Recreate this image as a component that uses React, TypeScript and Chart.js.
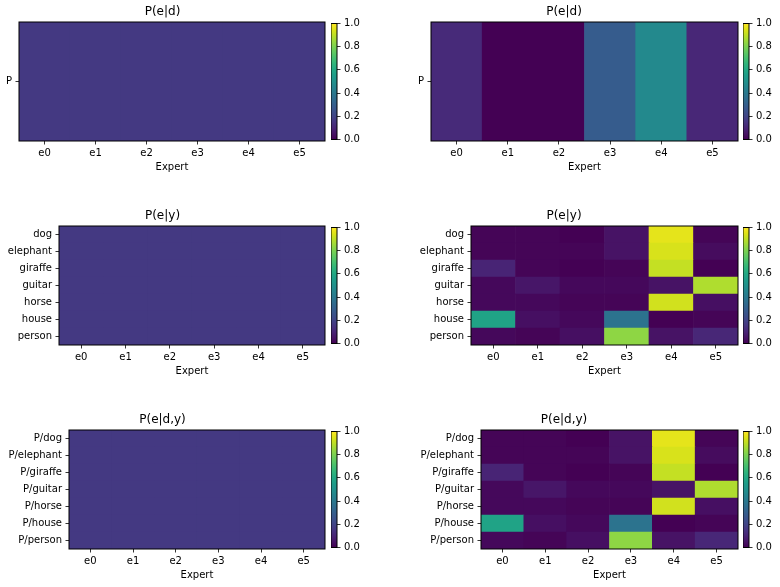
import React, { useEffect, useRef } from 'react';
import { Chart, registerables } from 'chart.js';

Chart.register(...registerables);

// ---------- data ----------
const experts = ['e0', 'e1', 'e2', 'e3', 'e4', 'e5'];
const domainRows = ['P'];
const labelRows = ['dog', 'elephant', 'giraffe', 'guitar', 'horse', 'house', 'person'];
const domainLabelRows = ['P/dog', 'P/elephant', 'P/giraffe', 'P/guitar', 'P/horse', 'P/house', 'P/person'];
const colorbarTicks = [0.0, 0.2, 0.4, 0.6, 0.8, 1.0];
const colorbarRange = [0, 1];

const pedUniform = [[0.167, 0.167, 0.167, 0.167, 0.167, 0.167]];
const peyUniform = [
  [0.167, 0.167, 0.167, 0.167, 0.167, 0.167],
  [0.167, 0.167, 0.167, 0.167, 0.167, 0.167],
  [0.167, 0.167, 0.167, 0.167, 0.167, 0.167],
  [0.167, 0.167, 0.167, 0.167, 0.167, 0.167],
  [0.167, 0.167, 0.167, 0.167, 0.167, 0.167],
  [0.167, 0.167, 0.167, 0.167, 0.167, 0.167],
  [0.167, 0.167, 0.167, 0.167, 0.167, 0.167],
];
const pedyUniform = [
  [0.167, 0.167, 0.167, 0.167, 0.167, 0.167],
  [0.167, 0.167, 0.167, 0.167, 0.167, 0.167],
  [0.167, 0.167, 0.167, 0.167, 0.167, 0.167],
  [0.167, 0.167, 0.167, 0.167, 0.167, 0.167],
  [0.167, 0.167, 0.167, 0.167, 0.167, 0.167],
  [0.167, 0.167, 0.167, 0.167, 0.167, 0.167],
  [0.167, 0.167, 0.167, 0.167, 0.167, 0.167],
];

const pedLearned = [[0.12, 0.0, 0.0, 0.29, 0.47, 0.11]];
const peyLearned = [
  [0.01, 0.01, 0.00, 0.05, 0.96, 0.01],
  [0.01, 0.01, 0.01, 0.05, 0.94, 0.03],
  [0.10, 0.01, 0.00, 0.01, 0.91, 0.00],
  [0.02, 0.06, 0.02, 0.02, 0.05, 0.88],
  [0.02, 0.02, 0.01, 0.01, 0.93, 0.04],
  [0.58, 0.04, 0.02, 0.38, 0.00, 0.01],
  [0.02, 0.01, 0.04, 0.83, 0.05, 0.11],
];
const pedyLearned = [
  [0.01, 0.01, 0.00, 0.05, 0.96, 0.01],
  [0.01, 0.01, 0.01, 0.05, 0.94, 0.03],
  [0.10, 0.01, 0.00, 0.01, 0.91, 0.00],
  [0.02, 0.06, 0.02, 0.02, 0.05, 0.88],
  [0.02, 0.02, 0.01, 0.01, 0.93, 0.04],
  [0.58, 0.04, 0.02, 0.38, 0.00, 0.01],
  [0.02, 0.01, 0.04, 0.83, 0.05, 0.11],
];

// ---------- style ----------
const FONT = "'DejaVu Sans', 'Liberation Sans', sans-serif";
const VIRIDIS = [
  '#440154', '#471365', '#482475', '#463480', '#414487', '#3b528b', '#355f8d',
  '#2f6c8e', '#2a788e', '#25848e', '#21918c', '#1e9c89', '#22a884', '#2fb47c',
  '#44bf70', '#5ec962', '#7ad151', '#9bd93c', '#bddf26', '#dfe318', '#fde725',
];
function hexToRgb(h: string) {
  return [parseInt(h.slice(1, 3), 16), parseInt(h.slice(3, 5), 16), parseInt(h.slice(5, 7), 16)];
}
function viridis(v: number) {
  const t = Math.max(0, Math.min(1, v)) * (VIRIDIS.length - 1);
  const i = Math.min(VIRIDIS.length - 2, Math.floor(t));
  const f = t - i;
  const a = hexToRgb(VIRIDIS[i]);
  const b = hexToRgb(VIRIDIS[i + 1]);
  const c = a.map((x, k) => Math.round(x + (b[k] - x) * f));
  return `rgb(${c[0]},${c[1]},${c[2]})`;
}

const TITLE_H = 20;
const XAXIS_H = 32;
const PAD_R = 3;
const TICK_LEN = 3.5;

const framePlugin = {
  id: 'frame',
  afterDraw(chart: any) {
    const { ctx, chartArea: a } = chart;
    ctx.save();
    ctx.strokeStyle = '#000';
    ctx.lineWidth = 1;
    ctx.strokeRect(a.left, a.top, a.right - a.left, a.bottom - a.top);
    ctx.restore();
  },
};

type Spec = {
  title: string;
  rows: string[];
  values: number[][];
  colLeft: number;
  l: number;
  r: number;
  t: number;
  b: number;
  cbL: number;
  cbR: number;
};

function Heatmap({ spec }: { spec: Spec }) {
  const ref = useRef<HTMLCanvasElement>(null);
  const W = spec.r - spec.colLeft + PAD_R;
  const H = spec.b - spec.t + TITLE_H + XAXIS_H;
  useEffect(() => {
    const n = spec.rows.length;
    const datasets = spec.values
      .map((row, i) => ({
        label: spec.rows[i],
        data: row.map(() => 1),
        backgroundColor: row.map(viridis),
        borderColor: row.map(viridis),
        borderWidth: 0,
        barPercentage: 1,
        categoryPercentage: 1,
      }))
      .reverse();
    const chart = new Chart(ref.current as HTMLCanvasElement, {
      type: 'bar',
      data: { labels: experts, datasets },
      options: {
        animation: false,
        responsive: false,
        maintainAspectRatio: false,
        layout: { padding: { top: 0, right: PAD_R, bottom: 0, left: 0 } },
        plugins: {
          legend: { display: false },
          tooltip: { enabled: false },
          title: {
            display: true,
            text: spec.title,
            color: '#000',
            font: { family: FONT, size: 12, weight: 'normal' },
            padding: { top: TITLE_H - 14.4 - 2.8, bottom: 2.8 },
          },
        },
        scales: {
          x: {
            type: 'category',
            stacked: true,
            offset: true,
            grid: {
              display: true,
              drawOnChartArea: false,
              offset: false,
              drawTicks: true,
              tickLength: TICK_LEN,
              tickColor: '#000',
              tickWidth: 0.8,
            },
            border: { display: false },
            ticks: {
              color: '#000',
              font: { family: FONT, size: 10 },
              padding: 3,
              maxRotation: 0,
              autoSkip: false,
            },
            title: {
              display: true,
              text: 'Expert',
              color: '#000',
              font: { family: FONT, size: 10 },
              padding: 0,
            },
            afterFit: (s: any) => {
              s.height = XAXIS_H;
            },
          },
          y: {
            type: 'linear',
            stacked: true,
            min: 0,
            max: n,
            afterBuildTicks: (s: any) => {
              s.ticks = spec.rows.map((_, i) => ({ value: i + 0.5 }));
            },
            grid: {
              display: true,
              drawOnChartArea: false,
              drawTicks: true,
              tickLength: TICK_LEN,
              tickColor: '#000',
              tickWidth: 0.8,
            },
            border: { display: false },
            ticks: {
              color: '#000',
              font: { family: FONT, size: 10 },
              padding: 3.5,
              autoSkip: false,
              callback: (_v: any, index: number) => spec.rows[n - 1 - index],
            },
            afterFit: (s: any) => {
              s.width = spec.l - spec.colLeft;
            },
          },
        },
      },
      plugins: [framePlugin],
    } as any);
    return () => chart.destroy();
  }, []);
  return (
    <canvas
      ref={ref}
      width={W}
      height={H}
      style={{ position: 'absolute', left: spec.colLeft, top: spec.t - TITLE_H, width: W, height: H }}
    />
  );
}

const CB_AXIS_W = 32;
const CB_PAD = 8;

function Colorbar({ spec }: { spec: Spec }) {
  const ref = useRef<HTMLCanvasElement>(null);
  const W = spec.cbR - spec.cbL + CB_AXIS_W;
  const H = spec.b - spec.t + 2 * CB_PAD;
  useEffect(() => {
    const chart = new Chart(ref.current as HTMLCanvasElement, {
      type: 'bar',
      data: {
        labels: [''],
        datasets: [
          {
            data: [colorbarRange],
            backgroundColor: (ctx: any) => {
              const c = ctx.chart;
              const a = c.chartArea;
              if (!a) return '#440154';
              const g = c.ctx.createLinearGradient(0, a.bottom, 0, a.top);
              VIRIDIS.forEach((col, i) => g.addColorStop(i / (VIRIDIS.length - 1), col));
              return g;
            },
            borderWidth: 0,
            barPercentage: 1,
            categoryPercentage: 1,
          },
        ],
      },
      options: {
        animation: false,
        responsive: false,
        maintainAspectRatio: false,
        layout: { padding: { top: CB_PAD, bottom: CB_PAD, left: 0, right: 0 } },
        plugins: { legend: { display: false }, tooltip: { enabled: false }, title: { display: false } },
        scales: {
          x: { type: 'category', display: false, offset: true },
          y: {
            type: 'linear',
            position: 'right',
            min: colorbarRange[0],
            max: colorbarRange[1],
            afterBuildTicks: (s: any) => {
              s.ticks = colorbarTicks.map((v) => ({ value: v }));
            },
            grid: {
              display: true,
              drawOnChartArea: false,
              drawTicks: true,
              tickLength: TICK_LEN,
              tickColor: '#000',
              tickWidth: 0.8,
            },
            border: { display: false },
            ticks: {
              color: '#000',
              font: { family: FONT, size: 10 },
              padding: 3.5,
              callback: (v: any) => Number(v).toFixed(1),
            },
            afterFit: (s: any) => {
              s.width = CB_AXIS_W;
            },
          },
        },
      },
      plugins: [framePlugin],
    } as any);
    return () => chart.destroy();
  }, []);
  return (
    <canvas
      ref={ref}
      width={W}
      height={H}
      style={{ position: 'absolute', left: spec.cbL, top: spec.t - CB_PAD, width: W, height: H }}
    />
  );
}

const ROW_T = [22, 226, 430];
const ROW_H = 119;

const specs: Spec[] = [
  { title: 'P(e|d)', rows: domainRows, values: pedUniform, colLeft: 0, l: 19, r: 325, t: ROW_T[0], b: ROW_T[0] + ROW_H, cbL: 331, cbR: 337 },
  { title: 'P(e|d)', rows: domainRows, values: pedLearned, colLeft: 390, l: 431, r: 738, t: ROW_T[0], b: ROW_T[0] + ROW_H, cbL: 743, cbR: 749 },
  { title: 'P(e|y)', rows: labelRows, values: peyUniform, colLeft: 0, l: 59, r: 325, t: ROW_T[1], b: ROW_T[1] + ROW_H, cbL: 331, cbR: 337 },
  { title: 'P(e|y)', rows: labelRows, values: peyLearned, colLeft: 390, l: 471, r: 738, t: ROW_T[1], b: ROW_T[1] + ROW_H, cbL: 743, cbR: 749 },
  { title: 'P(e|d,y)', rows: domainLabelRows, values: pedyUniform, colLeft: 0, l: 69, r: 325, t: ROW_T[2], b: ROW_T[2] + ROW_H, cbL: 331, cbR: 337 },
  { title: 'P(e|d,y)', rows: domainLabelRows, values: pedyLearned, colLeft: 390, l: 481, r: 738, t: ROW_T[2], b: ROW_T[2] + ROW_H, cbL: 743, cbR: 749 },
];

export default function App() {
  return (
    <div style={{ position: 'fixed', left: 0, top: 0, width: 780, height: 587, background: '#fff', overflow: 'hidden' }}>
      {specs.map((s, i) => (
        <React.Fragment key={i}>
          <Heatmap spec={s} />
          <Colorbar spec={s} />
        </React.Fragment>
      ))}
    </div>
  );
}
